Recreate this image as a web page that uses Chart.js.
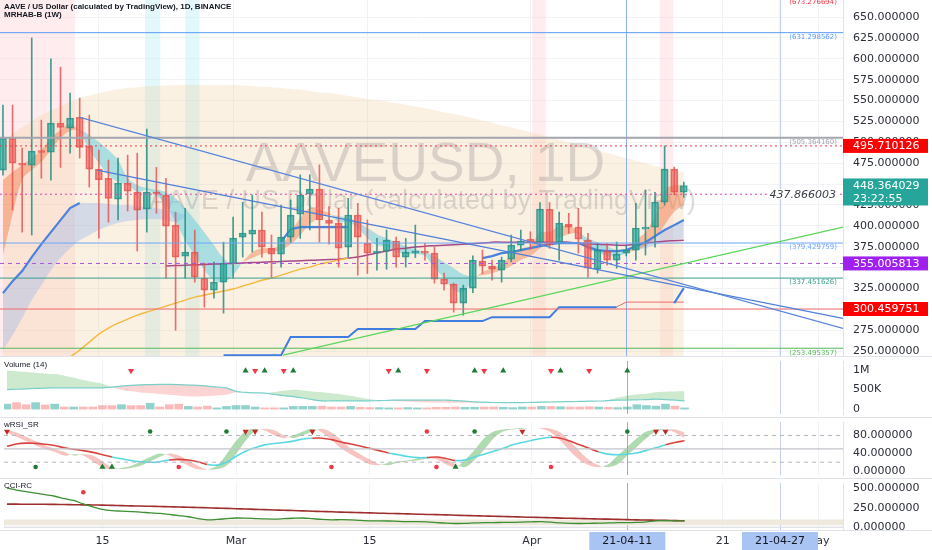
<!DOCTYPE html>
<html lang="en">
<head>
<meta charset="UTF-8">
<title>AAVEUSD, 1D</title>
<script src="https://cdn.jsdelivr.net/npm/chart.js"></script>
<style>
  body { margin: 0; width: 932px; height: 550px; overflow: hidden; background: #fff; position: relative; }
  .pane { position: absolute; left: 0; width: 932px; }
  .pane canvas { display: block; }
  .ttl { position: absolute; left: 4px; font: 8px "Liberation Sans", sans-serif; color: #131722; white-space: nowrap; pointer-events: none; }
</style>
</head>
<body>
<div class="pane" style="top:0;height:357px"><canvas id="pricePane" width="932" height="357"></canvas></div>
<div class="pane" style="top:357px;height:61px"><canvas id="volPane" width="932" height="61"></canvas></div>
<div class="pane" style="top:418px;height:61px"><canvas id="rsiPane" width="932" height="61"></canvas></div>
<div class="pane" style="top:479px;height:71px"><canvas id="cciPane" width="932" height="71"></canvas></div>
<div class="ttl" style="top:2px;font-weight:bold">AAVE / US Dollar (calculated by TradingView), 1D, BINANCE</div>
<div class="ttl" style="top:10px;font-weight:bold">MRHAB-B (1W)</div>
<div class="ttl" style="top:360px">Volume (14)</div>
<div class="ttl" style="top:420px">wRSI_SR</div>
<div class="ttl" style="top:481px">CCI-RC</div>

<script>
// ---- data (daily candles, index 0 = 2021-02-05) ----
const tickIdx = [10, 24, 38, 55, 65, 75, 81, 85];
const tickLabels = ['15', 'Mar', '15', 'Apr', '21-04-11', '21', '21-04-27', 'May'];
const markedIdx = [65, 81];

const opens  = [466.8,505.0,475.0,472.8,490.0,488.3,523.0,517.0,530.0,495.5,
                468.0,457.0,432.0,451.0,440.4,420.0,440.0,436.8,400.9,363.8,
                368.6,337.4,323.0,332.6,354.2,386.5,390.0,395.0,373.4,366.2,
                386.5,414.0,438.0,444.0,407.0,403.3,374.6,413.0,379.4,367.4,
                369.8,381.8,362.6,367.4,369.8,367.4,336.2,330.2,307.5,325.4,
                357.8,351.8,347.0,360.2,377.0,384.0,380.6,420.0,380.6,402.0,
                398.5,383.0,348.2,369.8,359.0,367.4,371.0,396.0,398.5,428.4,
                468.0,440.4];
const highs  = [544.6,544.6,493.0,625.0,526.6,600.0,590.0,559.0,553.0,532.6,
                490.7,478.7,481.0,484.7,487.0,515.9,470.0,457.0,416.5,421.0,
                395.0,355.4,356.6,380.5,410.5,428.4,437.0,416.5,389.0,425.0,
                431.0,461.0,461.0,473.0,423.0,421.0,433.0,427.0,407.0,385.0,
                395.0,386.5,385.0,401.0,379.0,374.6,343.4,331.4,329.0,364.0,
                371.0,359.0,362.6,389.0,395.0,393.0,428.0,428.0,416.5,415.0,
                421.0,391.0,379.4,379.0,380.6,376.0,427.0,443.0,440.0,495.710126,
                470.4,452.4];
const lows   = [460.8,418.9,392.5,389.0,457.0,454.8,470.0,487.0,481.0,446.4,
                385.3,404.5,407.0,417.7,369.8,392.5,415.0,337.4,275.0,337.4,
                332.6,302.7,313.5,295.5,337.4,362.6,368.6,362.6,338.6,350.6,
                380.5,385.0,395.0,380.5,378.0,350.6,362.6,341.0,343.0,347.0,
                348.0,350.6,350.6,362.0,359.0,331.4,323.0,296.7,293.0,320.0,
                343.0,335.0,332.6,357.0,370.0,372.0,377.0,373.0,359.0,391.0,
                367.4,338.6,343.4,353.0,349.4,364.0,359.0,365.0,374.6,425.0,
                437.0,434.0];
const closes = [505.0,475.2,472.8,489.5,488.0,523.0,518.0,529.0,494.0,468.0,
                455.0,433.0,451.0,441.6,418.9,440.4,438.0,399.7,362.6,368.6,
                338.6,323.0,332.6,355.4,385.3,391.3,395.0,374.6,366.2,386.5,
                412.9,437.0,444.0,407.0,403.0,373.4,413.0,386.5,367.4,369.8,
                383.0,362.6,368.6,369.8,367.4,336.2,330.2,307.5,325.4,359.0,
                351.8,348.2,359.0,377.0,381.8,380.0,420.0,377.0,403.3,398.5,
                384.2,349.4,371.0,359.0,366.2,371.0,397.3,398.5,428.4,468.0,
                440.4,448.364029];
const lastTime = '23:22:55';

// overlays on the price pane
const cloudTop = [502.7,510,518,525,532.6,538,543,548,553,556,
                  559,561.5,563.5,565,566,567,567.5,568,568.6,568.6,
                  568.6,568.6,568.6,568.6,568.6,568,567.5,566.5,566,565,
                  564,563,561.5,560,559,557.5,555.5,554,552,550.6,
                  549,547,545,543,541,538.5,536,534,531.5,529,
                  526,523.5,520.5,518,515,512.3,509,506,503,500,
                  496.7,493.5,490.5,487.5,484,481.1,478,475,472,469,
                  466.5,464.4];
const ribbonFast = [454.8,464.4,472.8,481.1,490.7,505.1,514.7,521.9,512.3,490.7,
                    475.2,460.8,452.4,448.8,440.4,442.8,436.8,424.9,404.5,382.9,
                    365.0,347.0,335.0,332.6,341.0,356.6,368.6,373.3,373.3,376.9,
                    392.5,409.3,421.3,418.9,415.3,404.5,404.5,397.3,385.3,376.9,
                    375.7,368.6,366.2,366.2,363.8,349.4,337.4,323.1,320.7,335.0,
                    344.6,349.4,354.2,365.0,373.3,375.7,392.5,392.5,399.7,399.7,
                    392.5,371.0,368.6,363.8,363.8,367.4,382.9,392.5,411.7,442.8,
                    448.8,447.6];
const ribbonSlow = [365.0,412.9,454.8,466.8,476.4,490.7,505.1,513.5,514.7,508.7,
                    500.3,490.7,478.7,457.2,448.8,445.2,442.8,440.4,433.2,421.3,
                    406.9,392.5,376.9,361.4,353.0,356.6,361.4,366.2,368.6,371.0,
                    378.1,388.9,402.1,409.3,412.9,411.7,409.3,404.5,397.3,390.1,
                    385.3,380.5,375.7,372.2,368.6,363.8,356.6,349.4,342.2,339.8,
                    341.0,343.4,347.0,351.8,359.0,363.8,373.3,378.1,385.3,390.1,
                    391.3,385.3,380.5,375.7,371.0,368.6,371.0,375.7,385.3,400.9,
                    416.5,424.9];
const _ = null;
const mrhabLine = [319.5,333.8,345.8,362.6,378.1,392.5,406.9,421.3,427.3,_,
                   _,_,_,_,_,_,_,_,_,_,
                   _,_,_,_,_,_,_,_,_,381.0,
                   396.0,398.5,398.5,398.5,398.5,398.5,398.5,_,_,_,
                   _,_,_,_,_,_,_,_,_,_,
                   361.4,363.8,367.4,368.6,371.0,373.3,375.7,378.1,379.4,379.4,
                   379.4,374.6,371.0,369.8,369.8,371.0,375.7,380.5,387.7,395.0,
                   400.9,406.9];
const mrhabBandTop = [319.5,333.8,345.8,362.6,378.1,392.5,406.9,421.3,427.3,427.3,
                      427.3,426.1,424.9,424.9,423.7,422.5,421.3,418.9,416.5,412.9,
                      _,_,_,_,_,_,_,_,_,_,
                      _,_,_,_,_,_,_,_,_,_,
                      _,_,_,_,_,_,_,_,_,_,
                      _,_,_,_,_,_,_,_,_,_,
                      _,_,_,_,_,_,375.7,380.5,387.7,395.0,
                      400.9,406.9];
const mrhabBandBot = [251.2,269.2,289.5,311.1,329.0,347.0,361.4,373.3,382.9,388.9,
                      394.9,399.7,403.3,405.7,406.9,408.1,408.1,406.9,404.5,410.0,
                      _,_,_,_,_,_,_,_,_,_,
                      _,_,_,_,_,_,_,_,_,_,
                      _,_,_,_,_,_,_,_,_,_,
                      _,_,_,_,_,_,_,_,_,_,
                      _,_,_,_,_,_,371.0,373.3,376.9,380.5,
                      382.9,385.3];
const stopBlue = [_,_,_,_,_,_,_,_,_,_,
                  _,_,_,_,_,_,_,_,_,_,
                  _,_,_,245.0,245.0,245.0,245.0,245.0,245.0,245.0,
                  266.8,266.8,266.8,266.8,266.8,266.8,266.8,276.4,276.4,276.4,
                  276.4,276.4,276.4,276.4,286.0,286.0,286.0,286.0,286.0,286.0,
                  286.0,290.7,290.7,290.7,290.7,290.7,290.7,290.7,302.7,302.7,
                  302.7,302.7,302.7,302.7,302.7,_,_,_,_,_,
                  307.5,325.5];
const stopRed = [_,_,_,_,_,_,_,_,_,_, _,_,_,_,_,_,_,_,_,_, _,_,_,_,_,_,_,_,_,_,
                 _,_,_,_,_,_,_,_,_,_, _,_,_,_,_,_,_,_,_,_, _,_,_,_,_,_,_,_,_,_,
                 _,_,_,_,303.0,308.7,308.7,308.7,308.7,308.7,308.7,308.7];
const yellowMA = [_,_,_,_,_,_,_,242.8,251.2,260.8,
                  270.4,277.6,283.5,288.3,293.1,296.7,300.3,303.9,307.5,311.1,
                  314.7,317.1,319.5,321.9,324.3,327.9,331.4,335.0,337.4,341.0,
                  344.6,348.2,350.6,354.2,356.6,359.0,361.4,_,_,_,
                  _,_,_,_,_,_,_,_,_,_, _,_,_,_,_,_,_,_,_,_, _,_,_,_,_,_,_,_,_,_, _,_];
const purpleMA = [_,_,_,_,_,_,_,_,_,_, _,_,_,_,_,_,_,352.0,352.4,352.9,
                  353.3,353.8,354.2,354.7,355.1,355.6,356.0,356.4,356.9,357.3,
                  357.8,358.2,358.7,359.1,359.6,360.0,361.4,362.6,365.0,367.4,
                  369.8,372.2,373.3,374.6,375.7,376.3,376.9,377.5,378.1,378.7,
                  379.4,380.5,380.5,380.5,380.5,380.5,380.5,380.5,380.5,380.5,
                  379.4,378.7,378.1,377.5,376.9,376.9,378.1,379.4,380.5,381.7,
                  382.3,382.9];
// drawn trend lines [index, price]
const trendA = [[7.93, 530.2], [87.6, 277.2]];
const trendB = [[9.8, 466.8], [87.6, 289.2]];
const trendUp = [[29.2, 245.2], [87.6, 398.5]];
// horizontal levels
const levelVals = [673.276694, 631.298562, 505.364160, 495.710126, 437.866003,
                   379.429759, 355.005813, 337.451626, 300.459751, 253.495357];
const priceTicks = [250, 275, 300, 325, 350, 375, 400, 425, 450, 475, 500, 525, 550, 575, 600, 625, 650];

// volume pane (thousands)
const volK = [137,174,123,174,116,137,65,65,65,65,
              101,101,123,101,101,159,65,123,137,80,
              65,87,43,80,101,101,65,43,43,43,
              80,80,80,87,65,65,80,58,50,50,
              43,43,50,43,43,58,58,65,58,58,
              65,65,58,50,65,65,80,80,72,65,
              65,72,65,58,50,65,123,101,87,137,
              87,43];
const volFast = [980,960,940,920,900,890,850,800,740,690,
                 650,565,500,457,430,410,391,370,350,335,
                 326,340,355,370,435,420,415,413,440,470,
                 500,480,455,435,410,380,348,300,261,240,
                 220,207,195,185,180,177,174,174,174,174,
                 174,174,174,180,185,190,195,200,205,210,
                 213,215,217,240,300,348,380,400,435,450,
                 455,457];
const volSlow = [500,510,520,530,540,543,545,545,545,545,
                 545,565,590,609,620,625,630,630,625,615,
                 609,590,565,543,457,430,418,413,380,350,
                 326,290,250,217,217,217,217,217,217,225,
                 232,239,239,239,239,239,239,225,210,196,
                 185,178,174,174,176,180,185,190,195,200,
                 205,210,215,225,235,239,245,250,261,250,
                 235,217];
const volSellIdx = [13, 26, 29, 40, 44, 50, 57, 61];
const volBuyIdx = [25, 27, 30, 41, 49, 52, 58, 65];
const volTicks = [0, 500, 1000];

// wRSI_SR pane
const rsiA = [86.8,77.1,67.3,57.6,49.8,43.3,34.8,38.0,34.8,21.7,
              8.7,4.1,6.7,11.9,21.7,31.5,39.4,34.8,23.7,11.9,
              4.1,4.1,11.9,38.0,67.3,90.1,95.3,91.4,80.3,73.8,
              80.3,88.8,95.3,86.8,70.6,51.1,38.0,26.3,15.2,13.3,
              18.5,21.7,23.7,28.3,30.2,26.3,15.2,8.7,25.0,47.8,
              73.8,88.8,93.3,95.3,96.6,96.6,95.3,86.8,67.3,44.6,
              25.0,13.3,8.7,15.2,34.8,54.3,73.8,88.8,93.3,93.3,
              86.8,73.8];
const rsiB = [92.0,86.8,77.1,67.3,57.6,49.8,43.3,34.8,38.0,34.8,
              21.7,8.7,4.1,6.7,11.9,21.7,31.5,39.4,34.8,23.7,
              11.9,4.1,4.1,11.9,38.0,67.3,90.1,95.3,91.4,80.3,
              73.8,80.3,88.8,95.3,86.8,70.6,51.1,38.0,26.3,15.2,
              13.3,18.5,21.7,23.7,28.3,30.2,26.3,15.2,8.7,25.0,
              47.8,73.8,88.8,93.3,95.3,96.6,96.6,95.3,86.8,67.3,
              44.6,25.0,13.3,8.7,15.2,34.8,54.3,73.8,88.8,93.3,
              93.3,86.8];
const rsiSignal = [55.6,60.8,62.8,62.1,60.2,57.6,52.4,49.1,45.9,42.0,
                   36.7,31.5,27.6,23.7,21.1,19.8,21.1,25.0,26.3,25.0,
                   21.1,14.6,13.3,19.8,32.8,44.6,52.4,58.9,62.1,64.1,
                   67.3,71.9,73.8,73.8,70.6,65.4,60.8,56.3,51.1,45.9,
                   40.7,36.7,32.8,30.2,30.2,31.5,28.3,23.7,25.0,31.5,
                   38.0,44.6,51.1,58.9,64.1,69.3,73.2,75.8,73.8,67.3,
                   58.9,51.1,43.3,38.0,36.7,38.0,40.7,46.5,52.4,58.9,
                   64.1,68.0];
const rsiCyanRanges = [[11, 17], [21, 32], [40, 44], [47, 57], [62, 69]];
const rsiLevels = [80, 50, 20];
const rsiTopSellIdx = [0, 25, 26, 32, 54, 68, 69];
const rsiTopGreenDot = [15, 23, 49, 65];
const rsiTopRedDot = [44];
const rsiBotGreenDot = [3];
const rsiBotRedDot = [18, 34, 45, 57];
const rsiBotBuyIdx = [10, 11, 47];
const rsiTicks = [0, 40, 80];

// CCI-RC pane
const cciMain = [505,480,460,440,420,400,370,345,300,262,
                 230,214,208,202,195,185,179,165,150,135,
                 110,95,100,110,119,117,112,107,105,110,
                 116,119,110,100,95,98,95,88,83,83,
                 80,75,72,71,68,60,52,48,50,55,
                 58,60,62,62,66,70,72,65,55,50,
                 48,50,52,55,58,60,62,70,83,85,
                 83,82];
const cciSlow = [298,298,297,297,296,295,293,291,289,287,
                 285,282,279,276,273,270,267,264,261,258,
                 255,251,247,243,239,235,231,227,223,219,
                 215,211,207,203,199,195,192,188,185,181,
                 178,175,172,168,165,162,159,155,152,148,
                 145,142,138,135,131,128,125,122,118,115,
                 112,109,106,104,101,98,95,93,90,88,
                 85,83];
const cciBand = [25, 100];
const cciDotIdx = [8];
const cciTicks = [0, 250, 500];

// ---- layout constants ----
const xMin = -0.31, xMax = 87.6, AXIS_W = 89;
const FONT = '"DejaVu Sans", sans-serif';
const pinkZones = [[-0.4, 7.5], [55.2, 56.6], [68.5, 69.9]];
const cyanZones = [[14.8, 16.4], [19.0, 20.5]];

const pts = arr => arr.map((v, i) => ({ x: i, y: v }));
const flat = (v, col, w, dash) => ({
  type: 'line', data: [{ x: xMin, y: v }, { x: xMax, y: v }],
  borderColor: col, borderWidth: w, borderDash: dash || [], pointRadius: 0, order: -1
});
const seg = (p, col, w) => ({
  type: 'line', data: p.map(q => ({ x: q[0], y: q[1] })),
  borderColor: col, borderWidth: w, pointRadius: 0, order: -1
});

function xScale(show) {
  return {
    type: 'linear', min: xMin, max: xMax, offset: false,
    grid: { color: '#f0f2f6', drawTicks: false, offset: false },
    border: { display: false },
    afterBuildTicks: s => { s.ticks = tickIdx.map(v => ({ value: v })); },
    ticks: {
      display: show, autoSkip: false, maxRotation: 0, padding: 5, color: '#2a2e39',
      font: { family: FONT, size: 11 },
      callback: (v, i) => markedIdx.includes(v) ? '' : tickLabels[i]
    },
    afterFit: s => { s.height = show ? 20 : 0; s.paddingLeft = 0; s.paddingRight = 0; }
  };
}
function yScale(min, max, ticks, fmt, grid) {
  return {
    position: 'right', min: min, max: max,
    grid: { color: grid ? '#f2f3f6' : 'rgba(0,0,0,0)', drawTicks: false },
    border: { display: true, color: '#e0e3eb' },
    afterBuildTicks: s => { s.ticks = ticks.map(v => ({ value: v })); },
    ticks: { padding: 10, color: '#2a2e39', font: { family: FONT, size: 11 }, callback: fmt },
    afterFit: s => { s.width = AXIS_W; s.paddingTop = 0; s.paddingBottom = 0; }
  };
}
function baseOptions(show, y) {
  return {
    responsive: false, devicePixelRatio: 1, animation: false, events: [],
    layout: { padding: 0 },
    elements: { point: { radius: 0 }, line: { tension: 0 } },
    plugins: { legend: { display: false }, tooltip: { enabled: false } },
    scales: { x: xScale(show), y: y }
  };
}

function dateLines(chart) {
  const { ctx, chartArea: a, scales: { x } } = chart;
  ctx.save();
  ctx.lineWidth = 1;
  ctx.strokeStyle = '#8eaef0';
  let p = Math.round(x.getPixelForValue(markedIdx[0])) + 0.5;
  ctx.beginPath(); ctx.moveTo(p, a.top); ctx.lineTo(p, a.bottom); ctx.stroke();
  ctx.strokeStyle = '#c3d2f2';
  p = Math.round(x.getPixelForValue(markedIdx[1])) + 0.5;
  ctx.beginPath(); ctx.moveTo(p, a.top); ctx.lineTo(p, a.bottom); ctx.stroke();
  ctx.restore();
}
function separator(chart, yPos) {
  const ctx = chart.ctx;
  ctx.save();
  ctx.strokeStyle = '#e0e3eb'; ctx.lineWidth = 1;
  ctx.beginPath(); ctx.moveTo(0, yPos); ctx.lineTo(chart.width, yPos); ctx.stroke();
  ctx.restore();
}
function axisTag(ctx, x0, yc, bg, lines) {
  ctx.fillStyle = bg;
  ctx.fillRect(x0, yc - 7, 85, 14 + (lines.length - 1) * 13);
  ctx.fillStyle = '#fff';
  ctx.font = '11px ' + FONT; ctx.textAlign = 'left'; ctx.textBaseline = 'middle';
  lines.forEach((s, k) => ctx.fillText(s, x0 + 10, yc + k * 13 + 0.5));
}

// ---- price pane ----
const UP = 'rgba(38,166,154,0.68)', UP_B = 'rgba(38,140,128,0.85)';
const DN = 'rgba(239,83,80,0.58)', DN_B = 'rgba(226,80,78,0.8)';
const isUp = opens.map((o, i) => closes[i] >= o);
const levelStyle = [
  { c: '#f23645', w: 1, tag: true }, { c: '#5b9cf6', w: 1, tag: true },
  { c: '#a3a6af', w: 2, tag: true }, { c: '#f23645', w: 1, dash: [2, 3] },
  { c: '#e040b0', w: 1, dash: [2, 3] }, { c: '#6ea6f4', w: 1, tag: true },
  { c: '#a855d8', w: 1, dash: [4, 4] }, { c: '#3a9d8f', w: 1, tag: true },
  { c: '#f26b6b', w: 1 }, { c: '#56b85a', w: 1, tag: true }
];

const priceSets = [
  { type: 'bar', label: 'bodies', order: 0, grouped: false, barThickness: 7, minBarLength: 1,
    borderSkipped: false, borderWidth: 1,
    data: opens.map((o, i) => ({ x: i, y: [o, closes[i]] })),
    backgroundColor: isUp.map(u => u ? UP : DN), borderColor: isUp.map(u => u ? UP_B : DN_B) },
  { type: 'bar', label: 'wicks', order: 1, grouped: false, barThickness: 1,
    data: lows.map((l, i) => ({ x: i, y: [l, highs[i]] })),
    backgroundColor: isUp.map(u => u ? UP_B : DN_B), borderWidth: 0 },
  { type: 'line', label: 'stopBlue', order: 2, data: pts(stopBlue), borderColor: '#3f7de0', borderWidth: 2 },
  { type: 'line', label: 'stopRed', order: 2, data: pts(stopRed), borderColor: '#f06a6a', borderWidth: 1 },
  { type: 'line', label: 'mrhab', order: 3, data: pts(mrhabLine), borderColor: '#4a82dc', borderWidth: 2.2 },
  { type: 'line', label: 'yellowMA', order: 3, data: pts(yellowMA), borderColor: '#f5b942', borderWidth: 1.5, tension: 0.3 },
  { type: 'line', label: 'purpleMA', order: 3, data: pts(purpleMA), borderColor: '#a9498a', borderWidth: 1.5, tension: 0.3 },
  { type: 'line', label: 'ribbonFast', order: 6, data: pts(ribbonFast), borderWidth: 0, tension: 0.35,
    fill: { target: '+1', above: 'rgba(244,128,80,0.48)', below: 'rgba(95,205,225,0.52)' } },
  { type: 'line', label: 'ribbonSlow', order: 6, data: pts(ribbonSlow), borderWidth: 0, tension: 0.35 },
  { type: 'line', label: 'bandTop', order: 7, data: pts(mrhabBandTop), borderWidth: 0, tension: 0.3,
    fill: { target: '+1', above: 'rgba(125,170,235,0.3)', below: 'rgba(125,170,235,0.3)' } },
  { type: 'line', label: 'bandBot', order: 7, data: pts(mrhabBandBot), borderWidth: 0, tension: 0.3 },
  { type: 'line', label: 'cloud', order: 10, data: pts(cloudTop), borderWidth: 0, tension: 0.3,
    fill: 'start', backgroundColor: 'rgba(238,196,140,0.24)' },
  seg(trendA, '#5a86dc', 1.2), seg(trendB, '#4f7fd6', 1.3), seg(trendUp, '#5ad65a', 1.2)
];
levelVals.forEach((v, k) => {
  const st = levelStyle[k];
  priceSets.push(flat(v, st.c, st.w, st.dash));
});

const pricePlugin = {
  id: 'pricePane',
  beforeDatasetsDraw(chart) {
    const { ctx, chartArea: a, scales: { x } } = chart;
    ctx.save();
    ctx.fillStyle = 'rgba(255,205,210,0.38)';
    pinkZones.forEach(z => {
      const x0 = x.getPixelForValue(z[0]), x1 = x.getPixelForValue(z[1]);
      ctx.fillRect(x0, a.top, x1 - x0, a.bottom - a.top);
    });
    ctx.fillStyle = 'rgba(190,240,245,0.45)';
    cyanZones.forEach(z => {
      const x0 = x.getPixelForValue(z[0]), x1 = x.getPixelForValue(z[1]);
      ctx.fillRect(x0, a.top, x1 - x0, a.bottom - a.top);
    });
    ctx.restore();
  },
  afterDatasetDraw(chart, args) {
    if (chart.data.datasets[args.index].label !== 'cloud') return;
    const { ctx, chartArea: a } = chart;
    const cx = (a.left + a.right) / 2;
    ctx.save();
    ctx.fillStyle = 'rgba(120,120,125,0.26)';
    ctx.textAlign = 'center'; ctx.textBaseline = 'alphabetic';
    ctx.font = '55px "Liberation Sans", sans-serif';
    ctx.fillText('AAVEUSD, 1D', cx + 4, 181);
    ctx.font = '27px "Liberation Sans", sans-serif';
    ctx.fillText('AAVE / US Dollar (calculated by TradingView)', cx + 1, 209);
    ctx.restore();
    dateLines(chart);
  },
  afterDraw(chart) {
    const { ctx, chartArea: a, scales: { y } } = chart;
    ctx.save();
    ctx.font = '7px ' + FONT; ctx.textAlign = 'right'; ctx.textBaseline = 'top';
    levelVals.forEach((v, k) => {
      if (!levelStyle[k].tag) return;
      ctx.fillStyle = levelStyle[k].c;
      ctx.fillText('(' + v.toFixed(6) + ')', a.right - 6, y.getPixelForValue(v) + 1);
    });
    // italic level tag
    const iy = y.getPixelForValue(levelVals[4]);
    ctx.font = 'italic 11px ' + FONT; ctx.textBaseline = 'middle';
    const txt = levelVals[4].toFixed(6);
    const tw = ctx.measureText(txt).width;
    ctx.fillStyle = '#fff';
    ctx.fillRect(a.right - 8 - tw, iy - 5, tw + 2, 10);
    ctx.fillStyle = '#3b3e48';
    ctx.fillText(txt, a.right - 7, iy + 0.5);
    // axis tags
    axisTag(ctx, a.right, y.getPixelForValue(levelVals[3]), '#ff0000', [levelVals[3].toFixed(6)]);
    axisTag(ctx, a.right, y.getPixelForValue(closes[closes.length - 1]), '#26a69a',
            [closes[closes.length - 1].toFixed(6), lastTime]);
    axisTag(ctx, a.right, y.getPixelForValue(levelVals[6]), '#a020f0', [levelVals[6].toFixed(6)]);
    axisTag(ctx, a.right, y.getPixelForValue(levelVals[8]), '#ff0000', [levelVals[8].toFixed(6)]);
    ctx.restore();
    separator(chart, chart.height - 0.5);
  }
};

new Chart(document.getElementById('pricePane'), {
  type: 'line',
  data: { datasets: priceSets },
  options: baseOptions(false, yScale(243, 670.4, priceTicks, v => v.toFixed(6), true)),
  plugins: [pricePlugin]
});

// ---- volume pane ----
const volMark = 975;
const lowerPlugin = (id, withAxis) => ({
  id: id,
  beforeDatasetsDraw(chart) { dateLines(chart); },
  afterDraw(chart) {
    separator(chart, withAxis ? chart.chartArea.bottom + 0.5 : chart.height - 0.5);
    if (!withAxis) return;
    const { ctx, chartArea: a, scales: { x } } = chart;
    ctx.save();
    ctx.font = '11px ' + FONT; ctx.textAlign = 'center'; ctx.textBaseline = 'middle';
    markedIdx.forEach(v => {
      const p = x.getPixelForValue(v);
      ctx.fillStyle = '#a9c3f2';
      ctx.fillRect(p - 38, a.bottom + 2, 76, 19);
      ctx.fillStyle = '#131722';
      ctx.fillText(tickLabels[tickIdx.indexOf(v)], p, a.bottom + 11.5);
    });
    ctx.restore();
  }
});

new Chart(document.getElementById('volPane'), {
  type: 'line',
  data: { datasets: [
    { type: 'scatter', order: 0, data: volSellIdx.map(i => ({ x: i, y: volMark })),
      pointStyle: 'triangle', pointRotation: 180, pointRadius: 3.5, pointBackgroundColor: '#f23645', pointBorderWidth: 0 },
    { type: 'scatter', order: 0, data: volBuyIdx.map(i => ({ x: i, y: volMark })),
      pointStyle: 'triangle', pointRadius: 3.5, pointBackgroundColor: '#1e7b34', pointBorderWidth: 0 },
    { type: 'bar', order: 1, grouped: false, barThickness: 8, data: pts(volK),
      backgroundColor: isUp.map(u => u ? 'rgba(38,166,154,0.5)' : 'rgba(239,83,80,0.4)') },
    { type: 'line', order: 2, data: pts(volSlow), borderColor: '#79cfc9', borderWidth: 1.2, tension: 0.4 },
    { type: 'line', order: 3, data: pts(volFast), borderWidth: 0, tension: 0.4,
      fill: { target: '+1', above: 'rgba(76,175,80,0.28)', below: 'rgba(239,83,80,0.25)' } },
    { type: 'line', order: 3, data: pts(volSlow), borderWidth: 0, tension: 0.4 }
  ] },
  options: baseOptions(false, yScale(-110, 1217, volTicks, v => v === 0 ? '0' : v === 1000 ? '1M' : v + 'K', false)),
  plugins: [lowerPlugin('volPane', false)]
});

// ---- wRSI_SR pane ----
const inCyan = i => rsiCyanRanges.some(r => i >= r[0] && i < r[1]);
const dots = (idx, lvl, col, style, rot) => ({
  type: 'scatter', order: 0, data: idx.map(i => ({ x: i, y: lvl })),
  pointStyle: style, pointRotation: rot || 0, pointRadius: style === 'circle' ? 2.3 : 3.5,
  pointBackgroundColor: col, pointBorderWidth: 0
});
new Chart(document.getElementById('rsiPane'), {
  type: 'line',
  data: { datasets: [
    dots(rsiTopSellIdx, 89, '#c62828', 'triangle', 180),
    dots(rsiTopGreenDot, 89, '#1e7b34', 'circle'),
    dots(rsiTopRedDot, 89, '#f23645', 'circle'),
    dots(rsiBotGreenDot, 9, '#1e7b34', 'circle'),
    dots(rsiBotRedDot, 9, '#f23645', 'circle'),
    dots(rsiBotBuyIdx, 9, '#1e7b34', 'triangle'),
    { type: 'line', order: 1, data: pts(rsiSignal), borderWidth: 1.6, tension: 0.4,
      segment: { borderColor: c => inCyan(c.p0DataIndex) ? '#5ad8e2' : '#d9443f' } },
    { type: 'line', order: 2, data: pts(rsiA), borderWidth: 0, tension: 0.3,
      fill: { target: '+1', above: 'rgba(76,175,80,0.45)', below: 'rgba(239,83,80,0.35)' } },
    { type: 'line', order: 2, data: pts(rsiB), borderWidth: 0, tension: 0.3 },
    flat(rsiLevels[0], '#b2b5be', 1, [4, 4]),
    flat(rsiLevels[1], '#c2c4cb', 1.2),
    flat(rsiLevels[2], '#b2b5be', 1, [4, 4])
  ] },
  options: baseOptions(false, yScale(-8.8, 110.2, rsiTicks, v => v.toFixed(6), false)),
  plugins: [lowerPlugin('rsiPane', false)]
});

// ---- CCI-RC pane ----
new Chart(document.getElementById('cciPane'), {
  type: 'line',
  data: { datasets: [
    dots(cciDotIdx, 452, '#f23645', 'circle'),
    { type: 'line', order: 1, data: pts(cciMain), borderColor: '#3c8f32', borderWidth: 1.3, tension: 0.3 },
    { type: 'line', order: 2, data: pts(cciSlow), borderColor: '#9e2d2d', borderWidth: 1.6, tension: 0.3 },
    { type: 'line', order: 5, data: [{ x: xMin, y: cciBand[1] }, { x: xMax, y: cciBand[1] }], borderWidth: 0,
      fill: { target: '+1', above: '#efe8dc', below: '#efe8dc' } },
    { type: 'line', order: 5, data: [{ x: xMin, y: cciBand[0] }, { x: xMax, y: cciBand[0] }], borderWidth: 0 },
    flat(0, '#d6d8de', 1)
  ] },
  options: baseOptions(true, yScale(-36, 571, cciTicks, v => v.toFixed(6), false)),
  plugins: [lowerPlugin('cciPane', true)]
});
</script>
</body>
</html>
